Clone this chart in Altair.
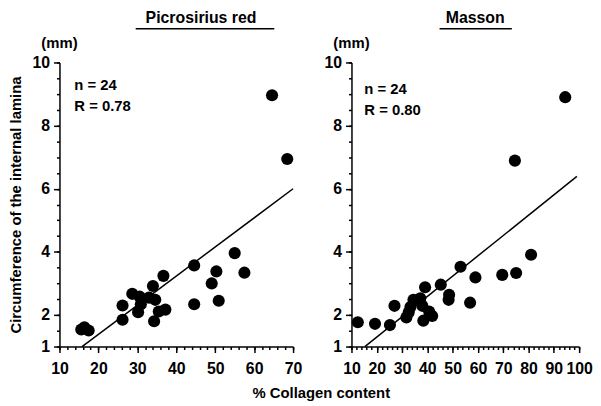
import altair as alt
import pandas as pd

# ---- data ----
left_x = [15.6, 16.4, 17.5, 26.2, 26.2, 28.7, 30.6, 30.9, 30.2, 33.0, 34.0, 34.6, 34.3,
          35.5, 37.2, 36.7, 44.6, 44.6, 49.1, 50.3, 50.9, 55.0, 57.5, 64.6, 68.5]
left_y = [1.54, 1.61, 1.51, 1.85, 2.30, 2.67, 2.58, 2.34, 2.09, 2.55, 2.92, 2.48, 1.80,
          2.11, 2.17, 3.24, 3.57, 2.34, 3.00, 3.38, 2.45, 3.96, 3.34, 8.96, 6.94]
right_x = [12.5, 19.3, 25.2, 27.0, 31.7, 32.6, 33.3, 34.5, 37.2, 38.0, 38.4, 39.1, 40.7,
           41.9, 45.3, 48.6, 48.4, 53.1, 56.9, 59.0, 69.6, 75.1, 81.0, 74.6, 94.5]
right_y = [1.77, 1.72, 1.68, 2.29, 1.92, 2.08, 2.25, 2.48, 2.53, 2.29, 1.82, 2.88, 2.11,
           1.97, 2.96, 2.64, 2.48, 3.53, 2.39, 3.19, 3.27, 3.33, 3.91, 6.89, 8.90]
left_fit_x = [15.8, 70.0]
left_fit_y = [1.0, 6.0]
right_fit_x = [15.3, 99.1]
right_fit_y = [1.0, 6.39]

titles = ["Picrosirius red", "Masson"]
stats = [["n = 24", "R = 0.78"], ["n = 24", "R = 0.80"]]
y_minor_ticks = [1 + 0.5 * i for i in range(19)]
y_label_values = [1, 2, 4, 6, 8, 10]
left_x_minor = list(range(10, 72, 2))
left_x_major = list(range(10, 80, 10))
right_x_minor = list(range(10, 102, 2))
right_x_major = list(range(10, 110, 10))

FONT = "Liberation Sans"
Y_TITLE = "Circumference of the internal lamina"
X_TITLE = "% Collagen content"


def panel(xs, ys, fx, fy, xdom, xmajor, xminor, title, stat, w, h, first, tx, ulx, ulx2,
          stat_x, stat_y):
    pts = pd.DataFrame({"x": xs, "y": ys})
    fit = pd.DataFrame({"x": fx, "y": fy})
    xs_ = alt.Scale(domain=xdom, nice=False, zero=False)
    ys_ = alt.Scale(domain=[1, 10], nice=False, zero=False)
    xaxis = alt.Axis(
        values=xmajor, orient="bottom", tickSize=6, labelOverlap=False, labelFlush=False,
        labelPadding=8, grid=False, format="d",
        title=X_TITLE if first else None,
        titleX=264, titleY=46, titleBaseline="middle", titleAnchor="start", titleAlign="center",
    )
    yaxis = alt.Axis(
        values=y_label_values, orient="left", tickSize=6, labelOverlap=False, labelFlush=False,
        labelPadding=4, grid=False, format="d",
        title=Y_TITLE if first else None, titlePadding=9,
    )
    xaxis_minor = alt.Axis(values=xminor, orient="bottom", tickSize=3, labels=False,
                           domain=False, grid=False, title=None)
    yaxis_minor = alt.Axis(values=y_minor_ticks, orient="left", tickSize=3, labels=False,
                           domain=False, grid=False, title=None)
    points = alt.Chart(pts).mark_circle(size=150, color="black", opacity=1).encode(
        x=alt.X("x:Q", scale=xs_, axis=xaxis),
        y=alt.Y("y:Q", scale=ys_, axis=yaxis),
    )
    line = alt.Chart(fit).mark_line(color="black", strokeWidth=1.5).encode(
        x=alt.X("x:Q", scale=xs_, axis=xaxis_minor),
        y=alt.Y("y:Q", scale=ys_, axis=yaxis_minor),
    )
    txt_kw = dict(font=FONT, fontSize=15, fontWeight="bold", baseline="middle", color="black")
    stat_txt = alt.Chart(pd.DataFrame({"t": [stat[0]]})).mark_text(align="left", **txt_kw).encode(
        text="t:N", x=alt.value(stat_x), y=alt.value(stat_y))
    stat_txt2 = alt.Chart(pd.DataFrame({"t": [stat[1]]})).mark_text(align="left", **txt_kw).encode(
        text="t:N", x=alt.value(stat_x), y=alt.value(stat_y + 21))
    head = alt.Chart(pd.DataFrame({"t": [title]})).mark_text(
        font=FONT, fontSize=16, fontWeight="bold", align="center", baseline="middle", color="black"
    ).encode(text="t:N", x=alt.value(tx), y=alt.value(-45))
    underline = alt.Chart(pd.DataFrame({"t": [title]})).mark_rule(color="black", strokeWidth=1.5).encode(
        x=alt.value(ulx), x2=alt.value(ulx2), y=alt.value(-34)
    )
    mm = alt.Chart(pd.DataFrame({"t": ["(mm)"]})).mark_text(align="center", **txt_kw).encode(
        text="t:N", x=alt.value(0), y=alt.value(-20))
    return alt.layer(points, line, stat_txt, stat_txt2, head, underline, mm).resolve_axis(
        x="independent", y="independent"
    ).properties(width=w, height=h)


left = panel(left_x, left_y, left_fit_x, left_fit_y, [10, 70], left_x_major, left_x_minor,
             titles[0], stats[0], 236, 287, True, 143, 77, 217, 15, 23)
right = panel(right_x, right_y, right_fit_x, right_fit_y, [10, 100], right_x_major, right_x_minor,
              titles[1], stats[1], 230, 287, False, 125, 89, 162, 13, 27)

chart = alt.hconcat(left, right, spacing=59, bounds="flush").properties(
    padding={"left": 0, "top": 0, "right": 0, "bottom": 0}
).configure_view(stroke=None).configure_axis(
    domainColor="black", domainWidth=1.5, tickColor="black", tickWidth=1.5,
    labelColor="black", labelFont=FONT, labelFontWeight="bold", labelFontSize=16,
    titleColor="black", titleFont=FONT, titleFontWeight="bold", titleFontSize=15,
)

chart.save("out.html", embed_options={"renderer": "svg", "actions": False})
